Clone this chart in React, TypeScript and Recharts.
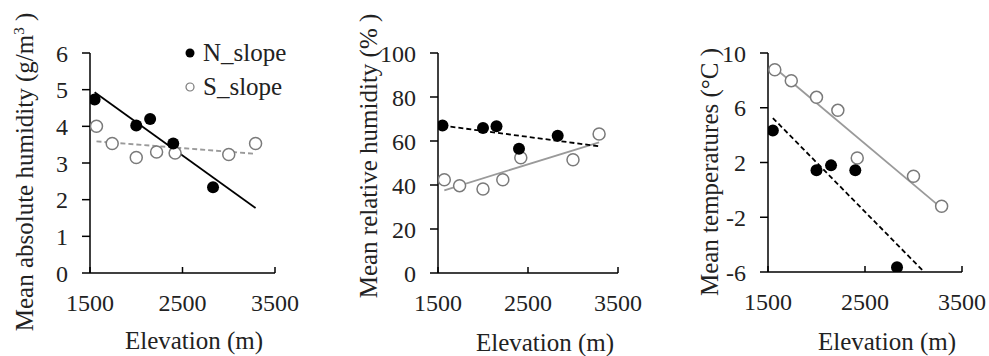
import React from 'react';
import { ScatterChart, Scatter, XAxis, YAxis } from 'recharts';

// elevation (m) of the sampling sites
const elevN = [1550, 2000, 2150, 2400, 2830];
const elevS = [1570, 1740, 2000, 2220, 2420, 3000, 3290];

// mean absolute humidity (g/m3)
const absHumN = [4.73, 4.02, 4.2, 3.53, 2.34];
const absHumS = [4.0, 3.53, 3.15, 3.3, 3.27, 3.23, 3.53];
// mean relative humidity (%)
const relHumN = [67, 65.9, 66.7, 56.5, 62.4];
const relHumS = [42.4, 39.7, 38.2, 42.4, 52.4, 51.5, 63.2];
// mean temperature (°C)
const tempN = [4.33, 1.43, 1.79, 1.43, -5.66];
const tempS = [8.78, 7.98, 6.76, 5.81, 2.33, 0.99, -1.2];

// trend line end points [elevation, value]
const absHumTrendN = [[1550, 4.93], [3290, 1.77]];
const absHumTrendS = [[1570, 3.59], [3290, 3.25]];
const relHumTrendN = [[1550, 67], [3290, 57.6]];
const relHumTrendS = [[1570, 37.6], [3290, 59.4]];
const tempTrendN = [[1550, 5.25], [3110, -6]];
const tempTrendS = [[1570, 8.9], [3290, -1.33]];

const xTicks = [1500, 2500, 3500];
const absHumTicks = [0, 1, 2, 3, 4, 5, 6];
const relHumTicks = [0, 20, 40, 60, 80, 100];
const tempTicks = [-6, -2, 2, 6, 10];

const FONT = 'Liberation Serif, DejaVu Serif, serif';
const toPoints = (xs: number[], ys: number[]) => xs.map((x, i) => ({ x, y: ys[i] }));
const toLine = (pts: number[][]) => pts.map(([x, y]) => ({ x, y }));

const FilledDot = (props: any) => <circle cx={props.cx} cy={props.cy} r={6} fill="#000" />;
const OpenDot = (props: any) => (
  <circle cx={props.cx} cy={props.cy} r={6} fill="#fff" stroke="#7a7a7a" strokeWidth={1.5} />
);
const NoDot = () => <g />;

interface TrendStyle {
  stroke: string;
  dash?: string;
}

interface PanelProps {
  left: number;
  width: number;
  margin: { top: number; right: number; bottom: number; left: number };
  yDomain: [number, number];
  yTicks: number[];
  nVals: number[];
  sVals: number[];
  trendN: number[][];
  trendS: number[][];
  styleN: TrendStyle;
  styleS: TrendStyle;
  yTitle: React.ReactNode;
  yTitlePos: [number, number];
  xTitlePos: [number, number];
  legend?: boolean;
}

function LegendBox() {
  return (
    <div
      style={{
        position: 'absolute',
        left: 183,
        top: 36,
        fontFamily: FONT,
        fontSize: 25,
        color: '#222',
        lineHeight: '34px',
      }}
    >
      <div style={{ display: 'flex', alignItems: 'center' }}>
        <svg width={20} height={14}>
          <circle cx={7} cy={7} r={4.5} fill="#000" />
        </svg>
        <span>N_slope</span>
      </div>
      <div style={{ display: 'flex', alignItems: 'center' }}>
        <svg width={20} height={14}>
          <circle cx={7} cy={7} r={4} fill="#fff" stroke="#7a7a7a" strokeWidth={1.2} />
        </svg>
        <span>S_slope</span>
      </div>
    </div>
  );
}

function Panel(p: PanelProps) {
  const axisLine = { stroke: '#000', strokeWidth: 1.5 };
  const tick = { fontFamily: FONT, fontSize: 24, fill: '#222' };
  return (
    <div style={{ position: 'absolute', left: p.left, top: 0, width: p.width, height: 356 }}>
      <ScatterChart width={p.width} height={356} margin={p.margin}>
        <XAxis
          type="number"
          dataKey="x"
          domain={[1500, 3500]}
          ticks={xTicks}
          axisLine={axisLine}
          tickLine={axisLine}
          tickSize={-6}
          tickMargin={27}
          height={60}
          tick={tick}
          allowDataOverflow
        />
        <YAxis
          type="number"
          dataKey="y"
          domain={p.yDomain}
          ticks={p.yTicks}
          axisLine={axisLine}
          tickLine={axisLine}
          tickSize={8}
          tickMargin={14}
          width={60}
          tick={tick}
          allowDataOverflow
        />
        <Scatter
          data={toLine(p.trendS)}
          line={{ stroke: p.styleS.stroke, strokeWidth: 1.8, strokeDasharray: p.styleS.dash }}
          shape={NoDot}
          legendType="none"
          isAnimationActive={false}
        />
        <Scatter
          data={toLine(p.trendN)}
          line={{ stroke: p.styleN.stroke, strokeWidth: 1.8, strokeDasharray: p.styleN.dash }}
          shape={NoDot}
          legendType="none"
          isAnimationActive={false}
        />
        <Scatter name="S_slope" data={toPoints(elevS, p.sVals)} shape={OpenDot} isAnimationActive={false} />
        <Scatter name="N_slope" data={toPoints(elevN, p.nVals)} shape={FilledDot} isAnimationActive={false} />
      </ScatterChart>
      {p.legend && <LegendBox />}
      <div
        style={{
          position: 'absolute',
          left: p.yTitlePos[0],
          top: p.yTitlePos[1],
          transform: 'translate(-50%, -50%) rotate(-90deg)',
          whiteSpace: 'nowrap',
          fontFamily: FONT,
          fontSize: 25,
          color: '#222',
        }}
      >
        {p.yTitle}
      </div>
      <div
        style={{
          position: 'absolute',
          left: p.xTitlePos[0],
          top: p.xTitlePos[1],
          transform: 'translate(-50%, -50%)',
          whiteSpace: 'nowrap',
          fontFamily: FONT,
          fontSize: 25,
          color: '#222',
        }}
      >
        Elevation (m)
      </div>
    </div>
  );
}

export default function App() {
  return (
    <div style={{ position: 'absolute', left: 0, top: 0, width: 989, height: 356, background: '#fff' }}>
      <Panel
        left={0}
        width={330}
        margin={{ top: 53, right: 55, bottom: 23, left: 30 }}
        yDomain={[0, 6]}
        yTicks={absHumTicks}
        nVals={absHumN}
        sVals={absHumS}
        trendN={absHumTrendN}
        trendS={absHumTrendS}
        styleN={{ stroke: '#000' }}
        styleS={{ stroke: '#9a9a9a', dash: '5 3' }}
        yTitle={
          <span>
            Mean absolute humidity (g/m<sup style={{ fontSize: 15 }}>3</sup> )
          </span>
        }
        yTitlePos={[25, 172]}
        xTitlePos={[194, 341]}
        legend
      />
      <Panel
        left={330}
        width={330}
        margin={{ top: 53, right: 42, bottom: 23, left: 48 }}
        yDomain={[0, 100]}
        yTicks={relHumTicks}
        nVals={relHumN}
        sVals={relHumS}
        trendN={relHumTrendN}
        trendS={relHumTrendS}
        styleN={{ stroke: '#000', dash: '5 3' }}
        styleS={{ stroke: '#9a9a9a' }}
        yTitle="Mean relative humidity (% )"
        yTitlePos={[39, 156]}
        xTitlePos={[215, 343]}
      />
      <Panel
        left={660}
        width={329}
        margin={{ top: 53, right: 27, bottom: 24, left: 48 }}
        yDomain={[-6, 10]}
        yTicks={tempTicks}
        nVals={tempN}
        sVals={tempS}
        trendN={tempTrendN}
        trendS={tempTrendS}
        styleN={{ stroke: '#000', dash: '5 3' }}
        styleS={{ stroke: '#9a9a9a' }}
        yTitle="Mean temperatures (°C )"
        yTitlePos={[50, 172]}
        xTitlePos={[227, 342]}
      />
    </div>
  );
}
